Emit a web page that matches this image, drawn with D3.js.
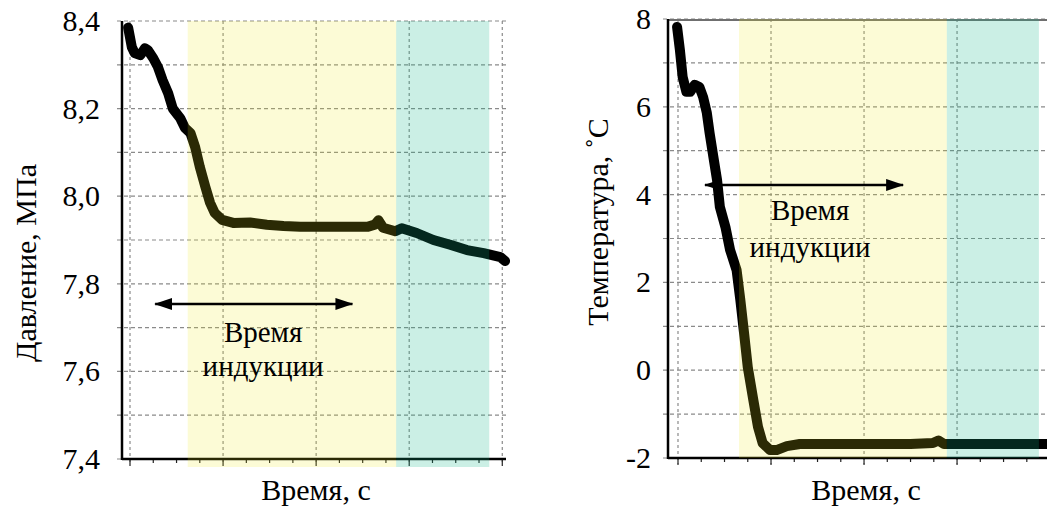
<!DOCTYPE html>
<html>
<head>
<meta charset="utf-8">
<script src="https://cdn.jsdelivr.net/npm/d3@7"></script>
</head>
<body style="margin:0">
<svg id="chart" width="1047" height="507"></svg>
<script>
// ---------- data ----------
// Left panel: pressure (MPa) vs time (unlabelled time axis, units arbitrary)
const pressureTime = [-2, 2, 5, 11, 16, 19, 25, 30, 35, 41, 46, 54, 59, 65, 70, 75, 81, 86, 91, 99, 111, 129, 147, 165, 183, 201, 218, 237, 255, 263, 267, 272, 285, 292, 308, 326, 344, 362, 380, 398, 403];
const pressureValues = [8.385, 8.34, 8.327, 8.322, 8.338, 8.334, 8.315, 8.295, 8.265, 8.235, 8.2, 8.178, 8.156, 8.144, 8.112, 8.067, 8.021, 7.985, 7.962, 7.946, 7.939, 7.94, 7.935, 7.932, 7.93, 7.93, 7.93, 7.93, 7.93, 7.935, 7.945, 7.928, 7.92, 7.927, 7.916, 7.9, 7.889, 7.877, 7.87, 7.861, 7.852];
const pressureTicks = [7.4, 7.6, 7.8, 8.0, 8.2, 8.4];
const pressureTickLabels = ["7,4", "7,6", "7,8", "8,0", "8,2", "8,4"];
const pressureBands = [[62, 286], [286, 386]];

// Right panel: temperature (°C) vs time
const temperatureTime = [-1, 2, 5, 9, 13, 18, 23, 27, 31, 34, 38, 42, 45, 51, 56, 63, 67, 71, 75, 81, 86, 91, 99, 106, 117, 131, 156, 200, 250, 274, 280, 286, 300, 350, 397];
const temperatureValues = [7.82, 7.3, 6.68, 6.34, 6.34, 6.5, 6.45, 6.22, 5.86, 5.4, 4.86, 4.33, 3.72, 3.26, 2.74, 2.28, 1.6, 0.85, 0.07, -0.68, -1.29, -1.66, -1.82, -1.82, -1.73, -1.68, -1.68, -1.68, -1.68, -1.66, -1.6, -1.68, -1.68, -1.68, -1.68];
const temperatureTicks = [-2, 0, 2, 4, 6, 8];
const temperatureTickLabels = ["-2", "0", "2", "4", "6", "8"];
const temperatureBands = [[65.6, 289], [289, 388]];

const xAxisTitle = "Время, с";
const pressureTitle = "Давление, МПа";
const temperatureTitle = "Температура, ˚С";
const annotationLines = ["Время", "индукции"];
// annotation anchors in data units: [arrowStart, arrowEnd, arrowValue, textCenter, line1Value, line2Value]
const pressureAnnotation = [27, 239, 7.754, 143, 7.667, 7.589];
const temperatureAnnotation = [29, 242, 4.22, 142, 3.42, 2.58];

// ---------- font ----------
const FONT = '"Liberation Serif"';
const warm = document.createElement("canvas").getContext("2d");
warm.font = '30px "Liberation Serif", monospace';
warm.measureText(xAxisTitle + " 8,4");

// ---------- drawing ----------
const svg = d3.select("#chart");
const defs = svg.append("defs");
["arrowEnd", "arrowStart"].forEach((id, i) => {
  defs.append("marker")
    .attr("id", id)
    .attr("viewBox", "0 0 18 12")
    .attr("refX", i === 0 ? 17 : 1).attr("refY", 6)
    .attr("markerWidth", 18).attr("markerHeight", 12)
    .attr("markerUnits", "userSpaceOnUse")
    .attr("orient", "auto")
    .append("path")
    .attr("d", i === 0 ? "M0,0 L18,6 L0,12 Z" : "M18,0 L0,6 L18,12 Z")
    .attr("fill", "#000");
});

const textLayer = [];
function addText(x, y, str, size, anchor, transform) {
  textLayer.push({ x, y, str, size, anchor: anchor || "middle", transform });
}

function panel(cfg) {
  const g = svg.append("g");
  const x = d3.scaleLinear().domain(cfg.xDomain).range(cfg.xRange);
  const y = d3.scaleLinear().domain(cfg.yDomain).range(cfg.yRange);
  const [x0, x1] = cfg.xRange;
  const [yb, yt] = cfg.yRange;

  // horizontal dashed grid
  g.append("g").selectAll("line").data(cfg.hGrid).join("line")
    .attr("x1", x0 - 5).attr("x2", x1)
    .attr("y1", d => y(d)).attr("y2", d => y(d))
    .attr("stroke", "#8a8a8a").attr("stroke-width", 1.2)
    .attr("stroke-dasharray", "4,3");
  // vertical dashed grid
  g.append("g").selectAll("line").data(cfg.vGrid).join("line")
    .attr("x1", d => x(d)).attr("x2", d => x(d))
    .attr("y1", yt).attr("y2", yb + 6)
    .attr("stroke", "#8a8a8a").attr("stroke-width", 1.2)
    .attr("stroke-dasharray", "3,3");
  if (cfg.solidTop) {
    g.append("line").attr("x1", x0).attr("x2", x1).attr("y1", yt + 1).attr("y2", yt + 1)
      .attr("stroke", "#6f6f6f").attr("stroke-width", 2);
  }

  // minor ticks on bottom axis
  g.append("g").selectAll("line").data(d3.range(0, cfg.xDomain[1] + 0.1, 25)).join("line")
    .attr("x1", d => x(d)).attr("x2", d => x(d))
    .attr("y1", yb).attr("y2", d => yb + (d % 100 === 0 ? 7 : 4))
    .attr("stroke", "#222").attr("stroke-width", 1.2);

  // axes lines
  g.append("line").attr("x1", x0).attr("x2", x1).attr("y1", yb).attr("y2", yb)
    .attr("stroke", "#000").attr("stroke-width", 2.5);
  g.append("line").attr("x1", x0).attr("x2", x0).attr("y1", yt).attr("y2", yb + 1)
    .attr("stroke", "#000").attr("stroke-width", 2.5);

  // y tick labels
  cfg.yTicks.forEach((d, i) => {
    addText(cfg.labelX, y(d) + 10, cfg.yTickLabels[i], 30, "end");
  });

  // data curve
  const line = d3.line().x(d => x(d[0])).y(d => y(d[1]));
  g.append("path")
    .datum(cfg.time.map((t, i) => [t, cfg.values[i]]))
    .attr("d", line)
    .attr("fill", "none").attr("stroke", "#000")
    .attr("stroke-width", 10)
    .attr("stroke-linejoin", "round").attr("stroke-linecap", "round");

  // translucent bands overlaid
  const colors = [["rgb(240,235,30)", 0.18], ["rgb(20,180,135)", 0.22]];
  g.append("g").selectAll("rect").data(cfg.bands).join("rect")
    .attr("x", d => x(d[0])).attr("width", d => x(d[1]) - x(d[0]))
    .attr("y", yt).attr("height", (yb - yt) + cfg.bandBelow)
    .attr("fill", (d, i) => colors[i][0]).attr("fill-opacity", (d, i) => colors[i][1]);

  // annotation arrow + text
  const a = cfg.annotation;
  g.append("line")
    .attr("x1", x(a[0])).attr("x2", x(a[1]))
    .attr("y1", y(a[2])).attr("y2", y(a[2]))
    .attr("stroke", "#000").attr("stroke-width", 2.5)
    .attr("marker-start", "url(#arrowStart)").attr("marker-end", "url(#arrowEnd)");
  addText(x(a[3]), y(a[4]), annotationLines[0], 29);
  addText(x(a[3]), y(a[5]), annotationLines[1], 29);

  // axis titles
  addText(cfg.xTitleX, 500, xAxisTitle, 30);
  addText(0, 0, cfg.yTitle, 30, "middle", `translate(${cfg.yTitleX},${cfg.yTitleY}) rotate(-90)`);
}

panel({
  xDomain: [-8.6, 404], xRange: [122, 506],
  yDomain: [7.4, 8.4], yRange: [459, 21],
  hGrid: d3.range(7.4, 8.41, 0.1), vGrid: [0, 100, 200, 300, 400],
  yTicks: pressureTicks, yTickLabels: pressureTickLabels,
  labelX: 100, time: pressureTime, values: pressureValues,
  bands: pressureBands, bandBelow: 8, annotation: pressureAnnotation,
  xTitleX: 316, yTitle: pressureTitle, yTitleX: 36, yTitleY: 263, solidTop: false
});
panel({
  xDomain: [-10.75, 396.7], xRange: [668, 1047],
  yDomain: [-2, 8], yRange: [458, 19],
  hGrid: d3.range(-2, 8.01, 1), vGrid: [0, 100, 200, 300],
  yTicks: temperatureTicks, yTickLabels: temperatureTickLabels,
  labelX: 651, time: temperatureTime, values: temperatureValues,
  bands: temperatureBands, bandBelow: 0, annotation: temperatureAnnotation,
  xTitleX: 866, yTitle: temperatureTitle, yTitleX: 608, yTitleY: 222, solidTop: true
});

// texts appended directly to the svg root, with the serif face forced inline
textLayer.forEach(t => {
  const el = svg.append("text")
    .attr("x", t.x).attr("y", t.y)
    .attr("font-size", t.size)
    .attr("font-family", FONT)
    .attr("text-anchor", t.anchor)
    .style("font-family", FONT, "important")
    .style("font-size", t.size + "px", "important")
    .text(t.str);
  if (t.transform) el.attr("transform", t.transform);
});
</script>
</body>
</html>
